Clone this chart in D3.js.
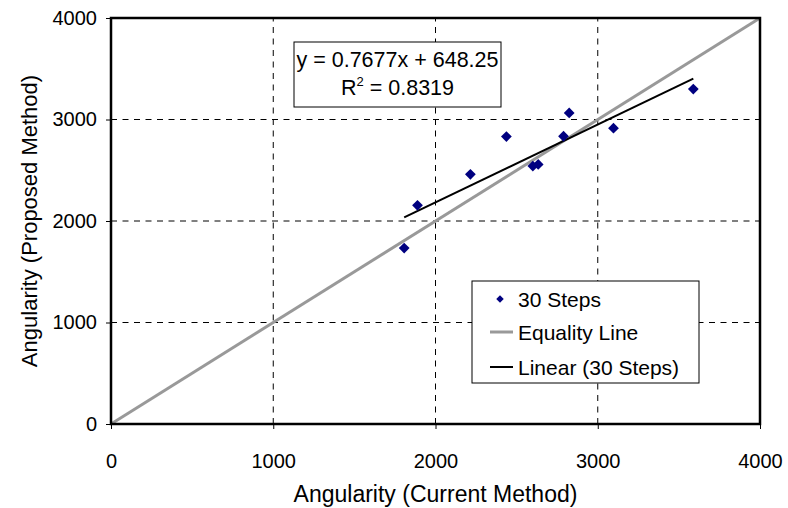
<!DOCTYPE html>
<html>
<head>
<meta charset="utf-8">
<script src="https://cdn.jsdelivr.net/npm/d3@7"></script>
<style>
  body { margin: 0; background: #fff; }
  svg text { font-family: "Liberation Sans", Arial, sans-serif; fill: #000; }
</style>
</head>
<body>
<div id="chart"></div>
<script>
'use strict';
// data
const currentMethod = [1807, 1889, 2215, 2437, 2600, 2633, 2789, 2824, 3097, 3589];
const proposedMethod = [1733, 2154, 2460, 2832, 2541, 2557, 2835, 3065, 2914, 3300];
const trendSlope = 0.7677, trendIntercept = 648.25, rSquared = 0.8319;
const axisTicks = [0, 1000, 2000, 3000, 4000];
const legendLabels = ["30 Steps", "Equality Line", "Linear (30 Steps)"];

function drawScatter(divId) {
  let width = 788, height = 508;
  let margin = { left: 111, right: 28, top: 18, bottom: 84 };
  let svg = d3.select("#" + divId).append("svg")
    .attr("width", width).attr("height", height);

  let x = d3.scaleLinear().domain([0, 4000]).range([margin.left, width - margin.right]);
  let y = d3.scaleLinear().domain([0, 4000]).range([height - margin.bottom, margin.top]);

  // dashed grid
  let grid = svg.append("g");
  grid.selectAll("line.v").data(axisTicks.slice(1, -1)).enter().append("line")
    .attr("x1", d => x(d)).attr("x2", d => x(d))
    .attr("y1", y(0)).attr("y2", y(4000))
    .attr("stroke", "#000").attr("stroke-width", 1).attr("stroke-dasharray", "6,5.5");
  grid.selectAll("line.h").data(axisTicks.slice(1, -1)).enter().append("line")
    .attr("x1", x(0)).attr("x2", x(4000))
    .attr("y1", d => y(d)).attr("y2", d => y(d))
    .attr("stroke", "#000").attr("stroke-width", 1).attr("stroke-dasharray", "6,5.5");

  // equality line
  svg.append("line")
    .attr("x1", x(0)).attr("y1", y(0)).attr("x2", x(4000)).attr("y2", y(4000))
    .attr("stroke", "#999").attr("stroke-width", 3);

  // linear trend
  let xMin = d3.min(currentMethod), xMax = d3.max(currentMethod);
  svg.append("line")
    .attr("x1", x(xMin)).attr("y1", y(trendSlope * xMin + trendIntercept))
    .attr("x2", x(xMax)).attr("y2", y(trendSlope * xMax + trendIntercept))
    .attr("stroke", "#000").attr("stroke-width", 2);

  // points
  let diamond = d3.symbol().type(d3.symbolSquare).size(58);
  svg.append("g").selectAll("path").data(currentMethod).enter().append("path")
    .attr("d", diamond)
    .attr("transform", (d, i) => "translate(" + [x(d), y(proposedMethod[i])] + ") rotate(45)")
    .attr("fill", "#000080");

  // axes
  let xAxis = d3.axisBottom(x).tickValues(axisTicks).tickFormat(d3.format("d")).tickSize(5).tickPadding(25);
  let yAxis = d3.axisLeft(y).tickValues(axisTicks).tickFormat(d3.format("d")).tickSize(5).tickPadding(9);
  let gx = svg.append("g").attr("transform", "translate(0," + y(0) + ")").call(xAxis);
  let gy = svg.append("g").attr("transform", "translate(" + x(0) + ",0)").call(yAxis);
  [gx, gy].forEach(g => {
    g.select(".domain").remove();
    g.selectAll("text").attr("font-size", "20px").attr("font-family", "Liberation Sans, Arial");
    g.selectAll("line").attr("stroke", "#000");
  });

  // frame
  svg.append("rect")
    .attr("x", x(0)).attr("y", y(4000))
    .attr("width", x(4000) - x(0)).attr("height", y(0) - y(4000))
    .attr("fill", "none").attr("stroke", "#000").attr("stroke-width", 2.5);

  // axis titles
  svg.append("text")
    .attr("x", (x(0) + x(4000)) / 2).attr("y", 502)
    .attr("text-anchor", "middle").attr("font-size", "23px")
    .text("Angularity (Current Method)");
  svg.append("text")
    .attr("transform", "translate(37," + 221 + ") rotate(-90)")
    .attr("text-anchor", "middle").attr("font-size", "22px")
    .text("Angularity (Proposed Method)");

  // equation box
  let eq = svg.append("g").attr("transform", "translate(294,42)");
  eq.append("rect").attr("width", 207).attr("height", 65)
    .attr("fill", "#fff").attr("stroke", "#000").attr("stroke-width", 1);
  eq.append("text").attr("x", 103.5).attr("y", 25).attr("text-anchor", "middle")
    .attr("font-size", "21.5px")
    .text("y = " + trendSlope + "x + " + trendIntercept);
  let r2 = eq.append("text").attr("x", 103.5).attr("y", 53).attr("text-anchor", "middle")
    .attr("font-size", "21.5px");
  r2.append("tspan").text("R");
  r2.append("tspan").attr("dy", -9).attr("font-size", "13px").text("2");
  r2.append("tspan").attr("dy", 9).text(" = " + rSquared);

  // legend
  let lg = svg.append("g").attr("transform", "translate(472,281)");
  lg.append("rect").attr("width", 227).attr("height", 102)
    .attr("fill", "#fff").attr("stroke", "#000").attr("stroke-width", 1);
  let rowY = [18, 51, 86];
  lg.append("path").attr("d", d3.symbol().type(d3.symbolSquare).size(28))
    .attr("transform", "translate(28," + rowY[0] + ") rotate(45)").attr("fill", "#000080");
  lg.append("line").attr("x1", 18).attr("x2", 41).attr("y1", rowY[1]).attr("y2", rowY[1])
    .attr("stroke", "#999").attr("stroke-width", 3);
  lg.append("line").attr("x1", 18).attr("x2", 41).attr("y1", rowY[2]).attr("y2", rowY[2])
    .attr("stroke", "#000").attr("stroke-width", 2);
  lg.selectAll("text.lab").data(legendLabels).enter().append("text")
    .attr("x", 46).attr("y", (d, i) => rowY[i] + 7.5)
    .attr("font-size", "21px").text(d => d);
}
drawScatter("chart");
</script>
</body>
</html>
